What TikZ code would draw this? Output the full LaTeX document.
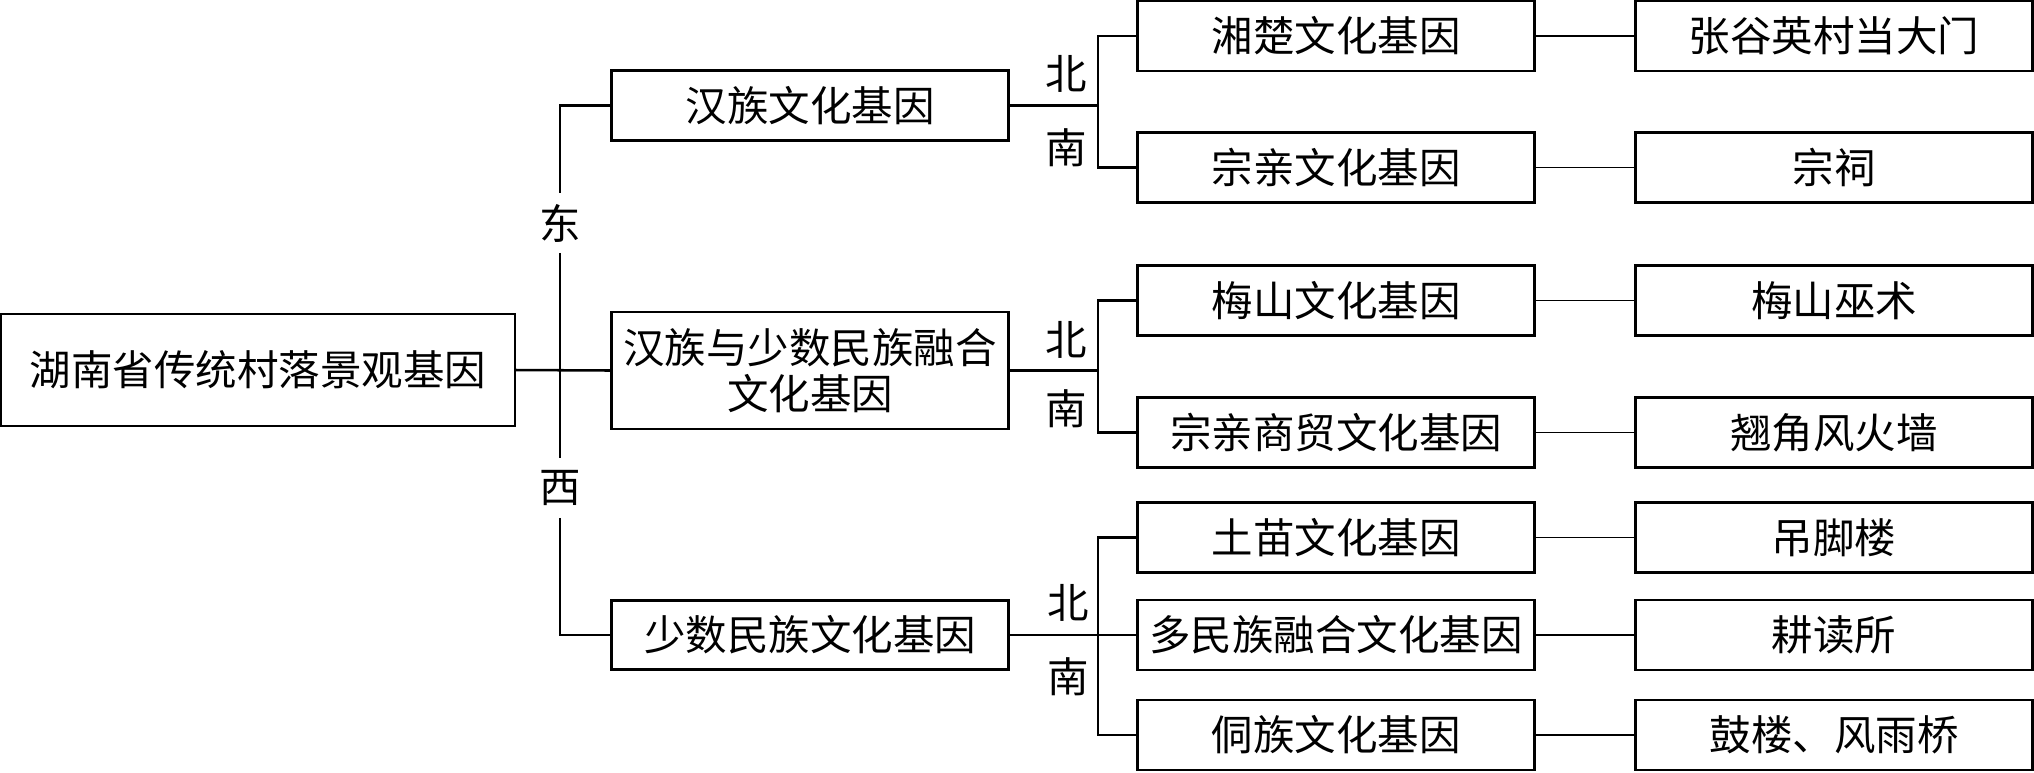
\documentclass[tikz,border=0pt]{standalone}
\usepackage{fontspec}
\setmainfont{Noto Sans CJK SC}
\usepackage{tikz}
\usetikzlibrary{positioning}
\tikzset{
	genebox/.style={draw, line width=0.72pt, inner sep=1pt, minimum width=3.97cm, minimum height=0.70cm, align=center},
	dirlabel/.style={inner sep=0pt, minimum height=0.57cm},
	thinlink/.style={line width=0.55pt}
}

\begin{document}
\begin{tikzpicture}[x=0.01cm, y=-0.01cm, line width=0.72pt, font=\fontsize{11.8pt}{13pt}\selectfont]
			%%%%% START %%%%%
			
			\useasboundingbox (0, 0) rectangle (2034, 772);
			
			\node[genebox, minimum width=5.135cm, minimum height=1.12cm] (root) at (258, 370) {湖南省传统村落景观基因};
			
			\node[genebox] (han) at (810, 105.5) {汉族文化基因};
			\node[genebox, minimum height=1.17cm] (mix) at (810, 370.5) {汉族与少数民族融合\\文化基因};
			\node[genebox, minimum height=0.69cm] (minor) at (810, 635) {少数民族文化基因};
			
			\node[dirlabel] (dong) at (560, 223) {东};
			\node[dirlabel] (xi) at (560, 488) {西};
			
			\draw (root.east) -- (mix.west);
			\draw (han.west) -| (dong.north);
			\draw (dong.south) -- (xi.north);
			\draw (xi.south) |- (minor.west);
			
			\node[genebox] (xiangchu) at (1336, 36) {湘楚文化基因};
			\node[genebox] (zongqin) at (1336, 167.5) {宗亲文化基因};
			\node[genebox] (meishan) at (1336, 300.5) {梅山文化基因};
			\node[genebox] (shangmao) at (1336, 432.5) {宗亲商贸文化基因};
			\node[genebox] (tumiao) at (1336, 537.5) {土苗文化基因};
			\node[genebox] (duominzu) at (1336, 635) {多民族融合文化基因};
			\node[genebox] (dongzu) at (1336, 735) {侗族文化基因};
			
			\coordinate (ba) at (1098, 105.5);
			\coordinate (bb) at (1098, 370.5);
			\coordinate (bc) at (1098, 635);
			
			\draw (han.east) -- (ba);
			\draw (xiangchu.west) -| (ba) |- (zongqin.west);
			\draw (mix.east) -- (bb);
			\draw (meishan.west) -| (bb) |- (shangmao.west);
			\draw (minor.east) -- (bc);
			\draw (tumiao.west) -| (bc) |- (dongzu.west);
			\draw (bc) -- (duominzu.west);
			
			\node (bei1) at (1066, 74) {北};
			\node (nan1) at (1066, 148) {南};
			\node (bei2) at (1066, 340) {北};
			\node (nan2) at (1066, 409) {南};
			\node (bei3) at (1068, 603) {北};
			\node (nan3) at (1068, 677) {南};
			
			\node[genebox] (damen) at (1834, 36) {张谷英村当大门};
			\node[genebox] (citang) at (1834, 167.5) {宗祠};
			\node[genebox] (wushu) at (1834, 300.5) {梅山巫术};
			\node[genebox] (huoqiang) at (1834, 432.5) {翘角风火墙};
			\node[genebox] (diaojiao) at (1834, 537.5) {吊脚楼};
			\node[genebox] (gengdu) at (1834, 635) {耕读所};
			\node[genebox] (gulou) at (1834, 735) {鼓楼、风雨桥};
			
			\draw[thinlink] (xiangchu) -- (damen);
			\draw[thinlink] (zongqin) -- (citang);
			\draw[thinlink] (meishan) -- (wushu);
			\draw[thinlink] (shangmao) -- (huoqiang);
			\draw[thinlink] (tumiao) -- (diaojiao);
			\draw[thinlink] (duominzu) -- (gengdu);
			\draw[thinlink] (dongzu) -- (gulou);
			
			%%%%% END %%%%%
\end{tikzpicture}
\end{document}
